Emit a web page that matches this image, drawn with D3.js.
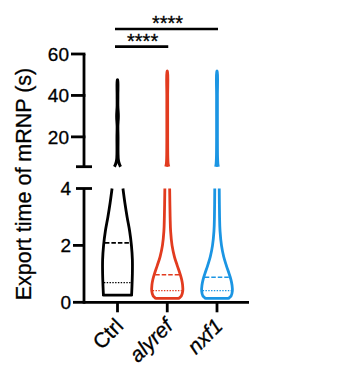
<!DOCTYPE html>
<html>
<head>
<meta charset="utf-8">
<script src="https://cdn.jsdelivr.net/npm/d3@7"></script>
<style>
html,body{margin:0;padding:0;background:#fff;}
svg{display:block;font-family:"Liberation Sans",Arial,Helvetica,sans-serif;}
text{stroke:#000;stroke-width:0.3px;}
</style>
</head>
<body>
<svg id="chart" width="363" height="366"></svg>
<script>
// ---------- data ----------
const categories = ["Ctrl", "alyref", "nxf1"];
const colors = ["#000000", "#E23B1F", "#1B95E3"];
const medians = [2.09, 0.97, 0.88];
const lowerQuartiles = [0.69, 0.41, 0.41];
const topTicks = [20, 40, 60];
const bottomTicks = [0, 2, 4];

// violin density profiles (relative width) – lower segment (0–4 s)
const lowValuesCtrl = [0.25, 0.5, 1.0, 1.5, 2.0, 2.5, 3.0, 3.5, 4.0];
const lowDensityCtrl = [0.88, 0.90, 0.93, 0.93, 0.87, 0.76, 0.60, 0.46, 0.34];
const lowValuesAlyref = [0.14, 0.22, 0.4, 0.6, 0.8, 1.0, 1.3, 1.6, 2.0, 2.5, 3.0, 4.0];
const lowDensityAlyref = [0.72, 0.88, 0.97, 0.96, 0.90, 0.80, 0.62, 0.45, 0.30, 0.21, 0.18, 0.15];
const lowValuesNxf1 = [0.14, 0.22, 0.4, 0.6, 0.8, 1.0, 1.3, 1.6, 2.0, 2.5, 3.0, 4.0];
const lowDensityNxf1 = [0.72, 0.88, 0.96, 0.94, 0.87, 0.76, 0.58, 0.42, 0.28, 0.19, 0.16, 0.14];
// upper segment (5.6–60 s)
const upValuesCtrl = [5.6, 7, 9, 12, 20, 25, 30, 35, 40, 47.5];
const upDensityCtrl = [0.19, 0.11, 0.05, 0.03, 0.03, 0.02, 0.05, 0.02, 0.02, 0.01];
const upValuesAlyref = [5.6, 7, 10, 20, 30, 40, 51.7];
const upDensityAlyref = [0.09, 0.05, 0.03, 0.02, 0.02, 0.02, 0.01];
const upValuesNxf1 = [5.6, 7, 10, 20, 30, 40, 51.7];
const upDensityNxf1 = [0.08, 0.05, 0.03, 0.02, 0.02, 0.02, 0.01];

const comparisons = [
  {from: "Ctrl", to: "nxf1", label: "****", level: 0},
  {from: "Ctrl", to: "alyref", label: "****", level: 1}
];

// ---------- build ----------
const lowProfiles = [
  d3.zip(lowValuesCtrl, lowDensityCtrl),
  d3.zip(lowValuesAlyref, lowDensityAlyref),
  d3.zip(lowValuesNxf1, lowDensityNxf1)
];
const upProfiles = [
  d3.zip(upValuesCtrl, upDensityCtrl),
  d3.zip(upValuesAlyref, upDensityAlyref),
  d3.zip(upValuesNxf1, upDensityNxf1)
];

const svg = d3.select("#chart");
const axisX = 84;
const x = d3.scalePoint().domain(categories).range([117.5, 217]);
const yTop = d3.scaleLinear().domain([5.6, 60]).range([166.7, 54]);
const yBot = d3.scaleLinear().domain([0, 4]).range([302.3, 188.5]);
const w = d3.scaleLinear().domain([0, 1]).range([0, 16]);

const tickFont = 19;
const axisColor = "#000";
const sw = 2.8;

// y-axis top segment
svg.append("line").attr("x1", axisX).attr("x2", axisX)
  .attr("y1", yTop(60)).attr("y2", yTop.range()[0])
  .attr("stroke", axisColor).attr("stroke-width", sw);
svg.append("line").attr("x1", axisX - 8).attr("x2", axisX + 8)
  .attr("y1", yTop.range()[0]).attr("y2", yTop.range()[0])
  .attr("stroke", axisColor).attr("stroke-width", sw);
topTicks.forEach(t => {
  svg.append("line").attr("x1", axisX - 13).attr("x2", axisX + sw / 2)
    .attr("y1", yTop(t)).attr("y2", yTop(t))
    .attr("stroke", axisColor).attr("stroke-width", sw);
  svg.append("text").attr("x", axisX - 15).attr("y", yTop(t)).attr("dy", "0.36em")
    .attr("text-anchor", "end").attr("font-size", tickFont).text(t);
});

// y-axis bottom segment
svg.append("line").attr("x1", axisX).attr("x2", axisX)
  .attr("y1", yBot(4)).attr("y2", yBot(0) + sw / 2)
  .attr("stroke", axisColor).attr("stroke-width", sw);
svg.append("line").attr("x1", axisX - 8).attr("x2", axisX + 8)
  .attr("y1", yBot(4)).attr("y2", yBot(4))
  .attr("stroke", axisColor).attr("stroke-width", sw);
bottomTicks.forEach(t => {
  if (t !== 4) {
    svg.append("line").attr("x1", axisX - 11).attr("x2", axisX)
      .attr("y1", yBot(t)).attr("y2", yBot(t))
      .attr("stroke", axisColor).attr("stroke-width", sw);
  }
  svg.append("text").attr("x", axisX - 13).attr("y", yBot(t)).attr("dy", "0.36em")
    .attr("text-anchor", "end").attr("font-size", tickFont).text(t);
});

// x-axis
svg.append("line").attr("x1", axisX).attr("x2", 249)
  .attr("y1", yBot(0)).attr("y2", yBot(0))
  .attr("stroke", axisColor).attr("stroke-width", sw);
categories.forEach(c => {
  svg.append("line").attr("x1", x(c)).attr("x2", x(c))
    .attr("y1", yBot(0)).attr("y2", yBot(0) + 10)
    .attr("stroke", axisColor).attr("stroke-width", sw);
  svg.append("text")
    .attr("transform", `translate(${x(c) + 7},${yBot(0) + 25}) rotate(-45)`)
    .attr("text-anchor", "end").attr("font-size", 21)
    .attr("font-style", c === "Ctrl" ? "normal" : "italic")
    .text(c);
});

// y-axis title
svg.append("text")
  .attr("transform", `translate(31,184) rotate(-90)`)
  .attr("text-anchor", "middle").attr("font-size", 21.5)
  .text("Export time of mRNP (s)");

// violins
function interp(profile, v) {
  const vs = profile.map(p => p[0]);
  const ds = profile.map(p => p[1]);
  return d3.scaleLinear().domain(vs).range(ds).clamp(true)(v);
}
const line = d3.line().x(d => d[0]).y(d => d[1]).curve(d3.curveCatmullRom.alpha(0.5));

categories.forEach((c, i) => {
  const cx = x(c);
  // lower: open at top
  const lp = lowProfiles[i];
  const left = lp.slice().reverse().map(p => [cx - w(p[1]), yBot(p[0])]);
  const right = lp.map(p => [cx + w(p[1]), yBot(p[0])]);
  svg.append("path").attr("d", line(left))
    .attr("fill", "none").attr("stroke", colors[i]).attr("stroke-width", sw);
  svg.append("path").attr("d", line(right))
    .attr("fill", "none").attr("stroke", colors[i]).attr("stroke-width", sw);
  svg.append("line")
    .attr("x1", cx - w(lp[0][1])).attr("x2", cx + w(lp[0][1]))
    .attr("y1", yBot(lp[0][0])).attr("y2", yBot(lp[0][0]))
    .attr("stroke", colors[i]).attr("stroke-width", sw).attr("stroke-linecap", "round");
  // upper: open at bottom
  const up = upProfiles[i];
  const uLeft = up.map(p => [cx - w(p[1]), yTop(p[0])]);
  const uRight = up.slice().reverse().map(p => [cx + w(p[1]), yTop(p[0])]);
  svg.append("path").attr("d", line(uLeft.concat(uRight)))
    .attr("fill", "none").attr("stroke", colors[i]).attr("stroke-width", sw + 0.2)
    .attr("stroke-linejoin", "round");
  // median (dashed) and lower quartile (dotted)
  const mw = w(interp(lp, medians[i])) - 1;
  svg.append("line").attr("x1", cx - mw).attr("x2", cx + mw)
    .attr("y1", yBot(medians[i])).attr("y2", yBot(medians[i]))
    .attr("stroke", colors[i]).attr("stroke-width", 1.6).attr("stroke-dasharray", "4.5,2");
  const qw = w(interp(lp, lowerQuartiles[i])) - 1;
  svg.append("line").attr("x1", cx - qw).attr("x2", cx + qw)
    .attr("y1", yBot(lowerQuartiles[i])).attr("y2", yBot(lowerQuartiles[i]))
    .attr("stroke", colors[i]).attr("stroke-width", 1.2).attr("stroke-dasharray", "1.4,1.4");
});

// significance bars
const barY = [29, 46.7];
comparisons.forEach(cmp => {
  const x1 = x(cmp.from) - 2.5, x2 = x(cmp.to) + 1;
  const y = barY[cmp.level];
  svg.append("line").attr("x1", x1).attr("x2", x2).attr("y1", y).attr("y2", y)
    .attr("stroke", "#000").attr("stroke-width", 2.7);
  svg.append("text").attr("x", (x1 + x2) / 2 + 1).attr("y", y + 1)
    .attr("text-anchor", "middle").attr("font-size", 20).text(cmp.label);
});
</script>
</body>
</html>
